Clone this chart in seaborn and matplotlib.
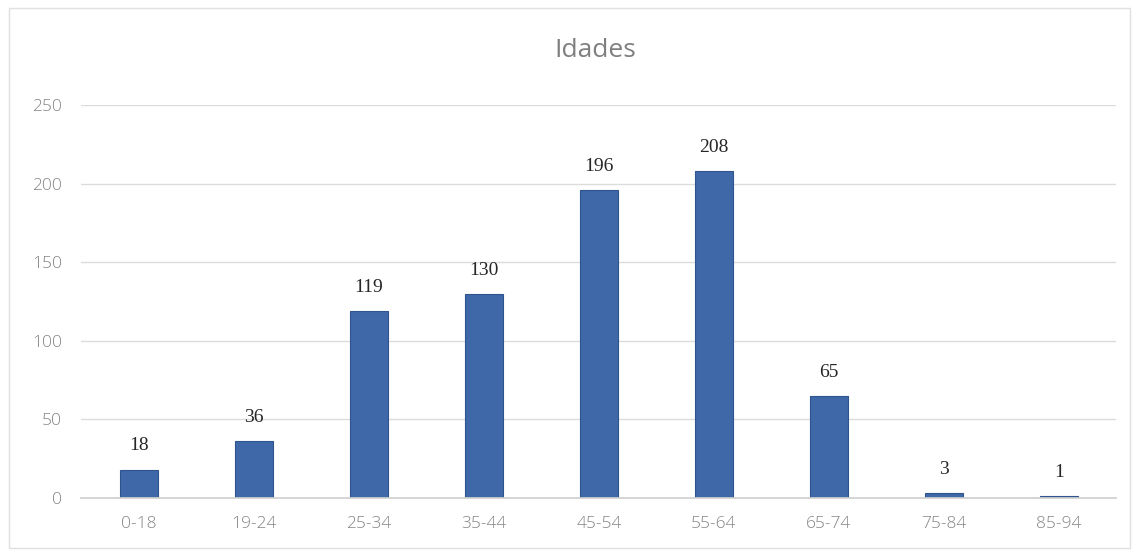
import matplotlib
matplotlib.use("Agg")
import matplotlib.pyplot as plt
import seaborn as sns
import pandas as pd

categories = ["0-18", "19-24", "25-34", "35-44", "45-54", "55-64", "65-74", "75-84", "85-94"]
values = [18, 36, 119, 130, 196, 208, 65, 3, 1]
yticks = [0, 50, 100, 150, 200, 250]
title = "Idades"

sns.set_theme(style="white")
plt.rcParams['font.family'] = ['Open Sans', 'DejaVu Sans']

df = pd.DataFrame({"faixa": categories, "n": values})

fig = plt.figure(figsize=(11.38, 5.54), dpi=100)
ax = fig.add_axes([0.0716, 0.101, 0.9094, 0.709])
sns.barplot(data=df, x="faixa", y="n", color="#3e68a8", saturation=1, width=0.33,
            edgecolor="#2f558f", linewidth=0.8, ax=ax)

ax.set_ylim(0, 250)
ax.set_xlim(-0.5, len(categories) - 0.5)
ax.set_yticks(yticks)
ax.set_yticklabels([str(t) for t in yticks])
ax.yaxis.grid(True, color="#dcdcdc", linewidth=1)
ax.set_axisbelow(True)
for s in ["top", "right", "left"]:
    ax.spines[s].set_visible(False)
ax.spines["bottom"].set_color("#d0d0d0")
ax.set_xlabel("")
ax.set_ylabel("")
ax.tick_params(axis="both", length=0, labelsize=12.5, colors="#858585")
ax.tick_params(axis="x", pad=13)
ax.tick_params(axis="y", pad=14)
for lab in ax.get_xticklabels() + ax.get_yticklabels():
    lab.set_fontweight("light")

for i, v in enumerate(values):
    ax.annotate(str(v), (i, v), xytext=(0, 11), textcoords="offset points",
                ha="center", va="bottom", fontsize=14, color="#262626",
                family=["Liberation Serif", "DejaVu Serif"])

fig.text(0.523, 0.908, title, ha="center", va="center", fontsize=19, color="#7f7f7f")

border = plt.Rectangle((0.008, 0.01), 0.985, 0.975, transform=fig.transFigure,
                       fill=False, edgecolor="#e0e0e0", linewidth=1)
fig.patches.append(border)

fig.savefig("out.png", dpi=100)
